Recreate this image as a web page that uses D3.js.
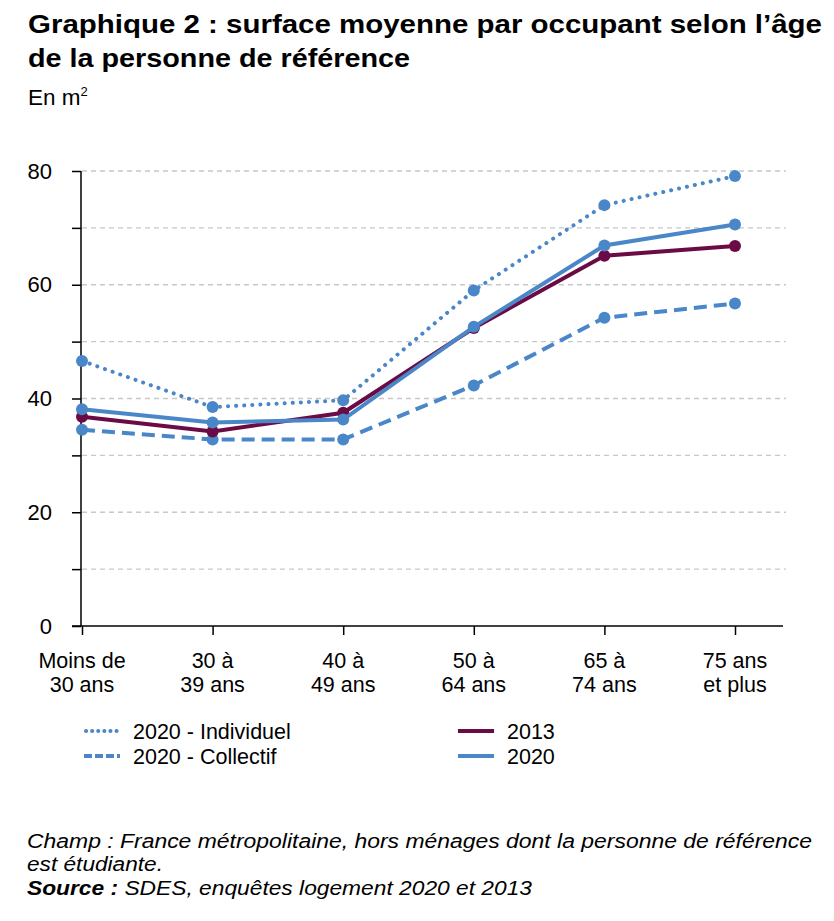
<!DOCTYPE html>
<html>
<head>
<meta charset="utf-8">
<script src="https://cdn.jsdelivr.net/npm/d3@7"></script>
<style>
  body { margin: 0; background: #fff; }
  svg { font-family: "Liberation Sans", Arial, sans-serif; }
</style>
</head>
<body>
<div id="chart-area"></div>
<script>
// Données
const categories = [["Moins de", "30 ans"], ["30 à", "39 ans"], ["40 à", "49 ans"], ["50 à", "64 ans"], ["65 à", "74 ans"], ["75 ans", "et plus"]];
const individuel2020 = [46.6, 38.5, 39.7, 59.0, 74.0, 79.1];
const collectif2020 = [34.5, 32.8, 32.8, 42.3, 54.2, 56.7];
const serie2013 = [36.8, 34.2, 37.5, 52.4, 65.1, 66.8];
const serie2020 = [38.1, 35.8, 36.3, 52.6, 66.9, 70.6];
const yTicks = [0, 20, 40, 60, 80];
const yMinor = [10, 30, 50, 70];

const blue = "#4a87c8";
const maroon = "#6b0b45";

const series = [
    { name: "2020 - Collectif", values: collectif2020, color: blue, dash: "13,7", cap: "butt" },
    { name: "2020 - Individuel", values: individuel2020, color: blue, dash: "0.1,8", cap: "round" },
    { name: "2013", values: serie2013, color: maroon, dash: null, cap: "butt" },
    { name: "2020", values: serie2020, color: blue, dash: null, cap: "butt" }
];

const width = 834;
const height = 921;

const svg = d3.select("#chart-area")
    .append("svg")
    .attr("width", width)
    .attr("height", height);

// Titre
svg.append("text").attr("x", 28).attr("y", 33)
    .attr("font-size", 25.5).attr("font-weight", "bold")
    .attr("textLength", 794).attr("lengthAdjust", "spacingAndGlyphs")
    .text("Graphique 2 : surface moyenne par occupant selon l’âge");
svg.append("text").attr("x", 28).attr("y", 67)
    .attr("font-size", 25.5).attr("font-weight", "bold")
    .attr("textLength", 382).attr("lengthAdjust", "spacingAndGlyphs")
    .text("de la personne de référence");
const unit = svg.append("text").attr("x", 28).attr("y", 105).attr("font-size", 22.5);
unit.append("tspan").text("En m");
unit.append("tspan").attr("font-size", 13).attr("dy", -9).text("2");

// Échelles
const x = d3.scalePoint()
    .domain(d3.range(categories.length))
    .range([82, 735]);

const y = d3.scaleLinear()
    .domain([0, 80])
    .range([626, 171]);

// Grille
svg.append("g")
    .selectAll("line")
    .data(yTicks.concat(yMinor).filter(d => d > 0))
    .enter()
    .append("line")
    .attr("x1", 82).attr("x2", 786)
    .attr("y1", d => y(d)).attr("y2", d => y(d))
    .attr("stroke", "#c8c8c8")
    .attr("stroke-width", 1.3)
    .attr("stroke-dasharray", "5,4");

// Axe Y
const yAxis = svg.append("g")
    .attr("transform", "translate(81,0)")
    .call(d3.axisLeft(y).tickValues(yTicks.concat(yMinor)).tickSize(9).tickPadding(20)
        .tickFormat(d => yTicks.includes(d) ? d : ""));
yAxis.select(".domain").attr("stroke", "#000").attr("stroke-width", 1.5).attr("d", `M0,${y(80)}V${y(0)}`);
yAxis.selectAll(".tick line").attr("stroke", "#000").attr("stroke-width", 1.5);
yAxis.selectAll(".tick text").attr("font-size", 22).attr("fill", "#000")
    .attr("font-family", "Liberation Sans, Arial, sans-serif");

// Axe X
const xAxis = svg.append("g")
    .attr("transform", `translate(0,${y(0)})`)
    .call(d3.axisBottom(x).tickSize(9).tickFormat(""));
xAxis.select(".domain").attr("stroke", "#000").attr("stroke-width", 1.5).attr("d", "M72,0H783");
xAxis.selectAll(".tick line").attr("stroke", "#000").attr("stroke-width", 1.5);

const xLabels = svg.append("g").selectAll("text")
    .data(categories)
    .enter()
    .append("text")
    .attr("x", (d, i) => x(i))
    .attr("y", 668)
    .attr("text-anchor", "middle")
    .attr("font-size", 21.5);
xLabels.append("tspan").attr("x", (d, i) => x(i)).text(d => d[0]);
xLabels.append("tspan").attr("x", (d, i) => x(i)).attr("dy", 24).text(d => d[1]);

// Courbes
const line = d3.line()
    .x((d, i) => x(i))
    .y(d => y(d));

series.forEach(s => {
    const g = svg.append("g");
    g.append("path")
        .datum(s.values)
        .attr("d", line)
        .attr("fill", "none")
        .attr("stroke", s.color)
        .attr("stroke-width", 4)
        .attr("stroke-linecap", s.cap)
        .attr("stroke-dasharray", s.dash);
    g.selectAll("circle")
        .data(s.values)
        .enter()
        .append("circle")
        .attr("cx", (d, i) => x(i))
        .attr("cy", d => y(d))
        .attr("r", 6)
        .attr("fill", s.color);
});

// Légende
const legendItems = [
    { name: "2020 - Individuel", color: blue, dash: "0.1,6", cap: "round", lx: 84, ly: 731 },
    { name: "2020 - Collectif", color: blue, dash: "8,3", cap: "butt", lx: 84, ly: 756 },
    { name: "2013", color: maroon, dash: null, cap: "butt", lx: 458, ly: 731 },
    { name: "2020", color: blue, dash: null, cap: "butt", lx: 458, ly: 756 }
];
const legend = svg.append("g").selectAll("g")
    .data(legendItems)
    .enter()
    .append("g");
legend.append("line")
    .attr("x1", d => d.lx + (d.cap === "round" ? 2 : 0)).attr("x2", d => d.lx + 36)
    .attr("y1", d => d.ly).attr("y2", d => d.ly)
    .attr("stroke", d => d.color)
    .attr("stroke-width", 4)
    .attr("stroke-linecap", d => d.cap)
    .attr("stroke-dasharray", d => d.dash);
legend.append("text")
    .attr("x", d => d.lx + 49)
    .attr("y", d => d.ly + 7.5)
    .attr("font-size", 21.5)
    .text(d => d.name);

// Notes
const notes = svg.append("g").attr("font-size", 20).attr("font-style", "italic");
notes.append("text").attr("x", 27).attr("y", 848)
    .attr("textLength", 785).attr("lengthAdjust", "spacingAndGlyphs")
    .text("Champ : France métropolitaine, hors ménages dont la personne de référence");
notes.append("text").attr("x", 27).attr("y", 871)
    .attr("textLength", 136).attr("lengthAdjust", "spacingAndGlyphs")
    .text("est étudiante.");
const src = notes.append("text").attr("x", 27).attr("y", 895)
    .attr("textLength", 505).attr("lengthAdjust", "spacingAndGlyphs");
src.append("tspan").attr("font-weight", "bold").text("Source :");
src.append("tspan").text(" SDES, enquêtes logement 2020 et 2013");
</script>
</body>
</html>
